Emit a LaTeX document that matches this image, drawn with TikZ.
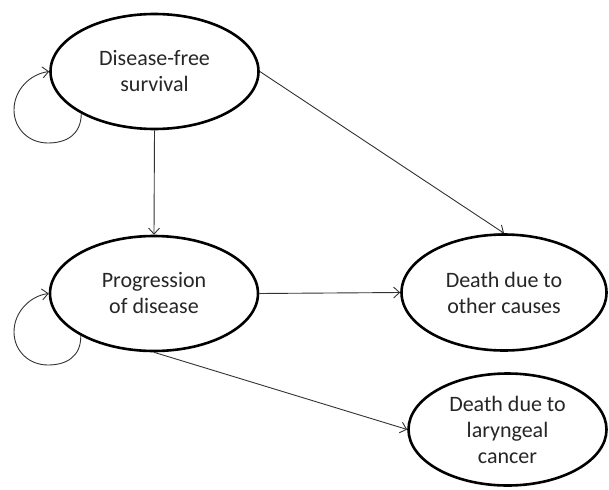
\documentclass[tikz,border=0pt]{standalone}
\usepackage{fontspec}
\setmainfont{Carlito}
\usetikzlibrary{shapes.geometric,arrows.meta}
\tikzset{
  state/.style={ellipse, draw=black, line width=2.6pt, inner sep=0pt, align=center,
    font=\fontsize{22}{26}\selectfont, text=black!85},
  arr/.style={draw=black!80, line width=0.9pt, -{Straight Barb[length=6pt,width=11pt,line width=0.9pt]}}
}
\begin{document}
\begin{tikzpicture}[x=1pt,y=-1pt]
\useasboundingbox[fill=white] (0,0) rectangle (609,489);
\node[state, minimum width=208pt, minimum height=115pt] (dfs) at (154.5,71.5) {Disease-free\\survival};
\node[state, minimum width=208pt, minimum height=115pt] (prog) at (154,293.5) {Progression\\of disease};
\node[state, minimum width=205pt, minimum height=116pt] (oth) at (504,292.5) {Death due to\\other causes};
\node[state, minimum width=198pt, minimum height=112pt] (lar) at (507.5,429.5) {Death due to\\laryngeal\\cancer};
\draw[arr] (dfs.south) -- (prog.north);
\draw[arr] (dfs.east) -- (oth.north);
\draw[arr] (prog.east) -- (oth.west);
\draw[arr] (prog.south) -- (lar.west);
\draw[arr] (dfs.210) .. controls (81,135) and (66,143) .. (48,143)
  .. controls (28,143) and (14,128) .. (14,110)
  .. controls (14,90) and (30,74) .. (dfs.west);
\draw[arr] (prog.210) .. controls (81,357) and (66,365) .. (48,365)
  .. controls (28,365) and (14,350) .. (14,332)
  .. controls (14,312) and (30,296) .. (prog.west);
\end{tikzpicture}
\end{document}
